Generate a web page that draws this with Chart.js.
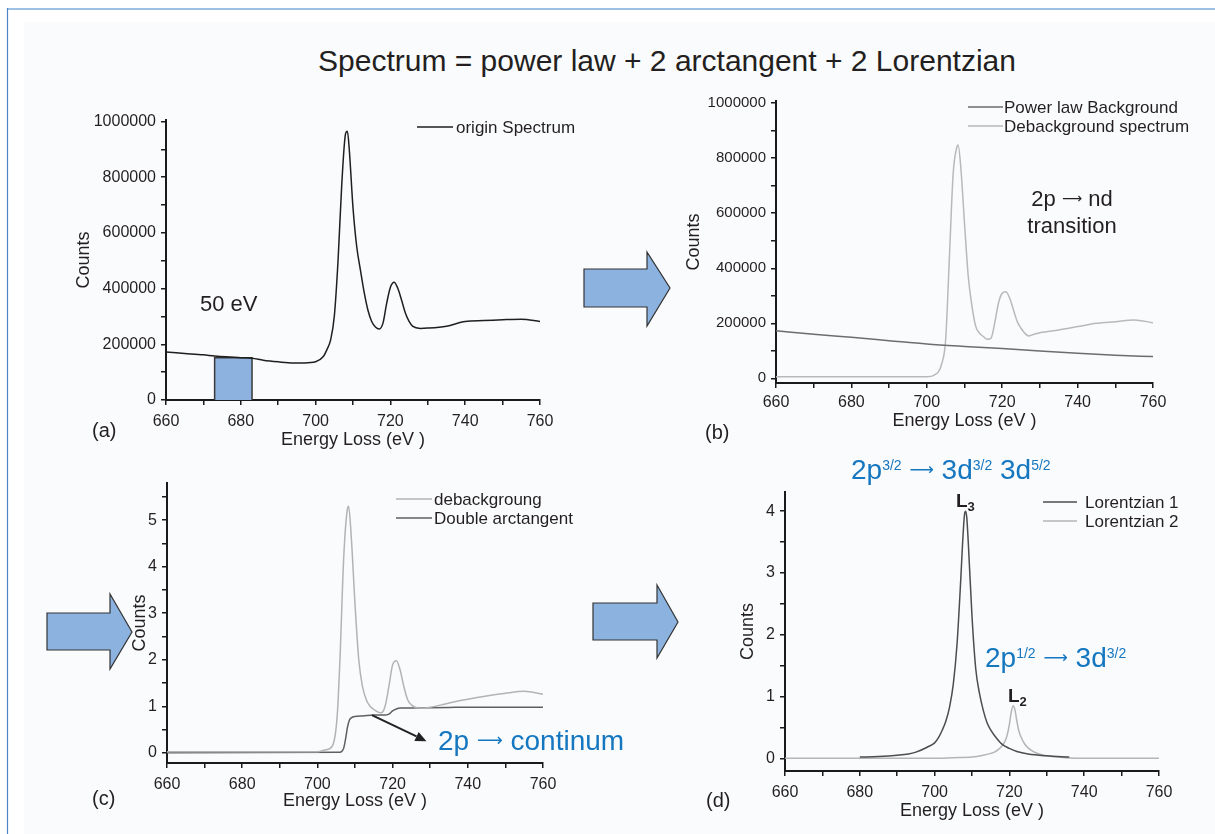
<!DOCTYPE html>
<html>
<head>
<meta charset="utf-8">
<title>Spectrum = power law + 2 arctangent + 2 Lorentzian</title>
<script src="https://cdn.jsdelivr.net/npm/chart.js@4.4.1/dist/chart.umd.min.js"></script>
<style>
  html, body { margin: 0; padding: 0; }
  body { width: 1215px; height: 834px; position: relative; overflow: hidden; background: #fff;
         font-family: "Liberation Sans", Arial, Helvetica, sans-serif; color: #231f20; }
  #sheet { position: absolute; left: 24px; top: 22px; right: 0; bottom: 0; background: #fafbfd; }
  svg.deco { position: absolute; left: 0; top: 0; }
  canvas { position: absolute; }
  .txt { position: absolute; white-space: nowrap; line-height: 1; }
  .blue { color: #1577c0; }
  .sup { font-size: 14px; vertical-align: 9px; }
  .arr { font-family: "DejaVu Sans", sans-serif; font-size: 17px; vertical-align: 4px; }
  .sub { font-size: 13px; vertical-align: -4px; }
</style>
</head>
<body>
<div id="sheet"></div>
<svg class="deco" width="1215" height="834">
  <line x1="7" y1="9" x2="1215" y2="9" stroke="#9dc1e4" stroke-width="2"/>
  <line x1="7.5" y1="8" x2="7.5" y2="834" stroke="#4b84c4" stroke-width="1.2"/>
  <g fill="#8cb2df" stroke="#333" stroke-width="1.2">
    <polygon points="584,269 647,269 647,252 670,288 647,326 647,307 584,307"/>
    <polygon points="47,613 110,613 110,594 132,632 110,669 110,650 47,650"/>
    <polygon points="593,603 657,603 657,585 678,622 657,658 657,640 593,640"/>
  </g>
</svg>

<canvas id="chartA"></canvas>
<canvas id="chartB"></canvas>
<canvas id="chartC"></canvas>
<canvas id="chartD"></canvas>

<div class="txt" style="left:667px; top:46px; font-size:30px; transform:translateX(-50%);">Spectrum = power law + 2 arctangent + 2 Lorentzian</div>

<div class="txt" style="left:200px; top:293px; font-size:22px;">50 eV</div>
<div class="txt" style="left:1072px; top:188px; font-size:22px; transform:translateX(-50%);">2p <span class="arr" style="font-size:14px; vertical-align:3px;">&#10230;</span> nd</div>
<div class="txt" style="left:1072px; top:215px; font-size:22px; transform:translateX(-50%);">transition</div>
<div class="txt blue" style="left:438px; top:727px; font-size:28px;">2p <span class="arr" style="font-size:18px;">&#10230;</span> continum</div>

<div class="txt blue" style="left:851px; top:456px; font-size:28px;">2p<span class="sup">3/2</span> <span class="arr">&#10230;</span> 3d<span class="sup">3/2</span> 3d<span class="sup">5/2</span></div>
<div class="txt blue" style="left:985px; top:644px; font-size:28px;">2p<span class="sup">1/2</span> <span class="arr">&#10230;</span> 3d<span class="sup">3/2</span></div>
<div class="txt" style="left:956px; top:491px; font-size:19px; font-weight:bold;">L<span class="sub">3</span></div>
<div class="txt" style="left:1008px; top:686px; font-size:19px; font-weight:bold;">L<span class="sub">2</span></div>

<div class="txt" style="left:92px; top:420px; font-size:20px;">(a)</div>
<div class="txt" style="left:705px; top:422px; font-size:20px;">(b)</div>
<div class="txt" style="left:92px; top:788px; font-size:20px;">(c)</div>
<div class="txt" style="left:706px; top:790px; font-size:20px;">(d)</div>

<script>
// tick labels
const energyLabels = [660, 680, 700, 720, 740, 760];
const countLabelsAB = [0, 200000, 400000, 600000, 800000, 1000000];
const countLabelsC = [0, 1, 2, 3, 4, 5];
const countLabelsD = [0, 1, 2, 3, 4];

// (a) raw spectrum
const energyA = [660, 665, 670, 673, 676, 680, 683, 686, 690, 694, 697, 700, 702, 703, 704, 705, 706, 707, 708, 708.5,
                 709, 710, 711, 712, 713, 714, 715, 716, 717, 718, 719, 720, 721, 722, 723, 724, 725, 726, 728, 730,
                 735, 740, 745, 750, 755, 760];
const originSpectrum = [172000, 167000, 162000, 158000, 155000, 152000, 150000, 143000, 137000, 133000, 133000, 137000, 155000, 180000, 215000, 300000, 500000, 775000, 955000, 965000,
                        900000, 690000, 550000, 465000, 385000, 322000, 282000, 262000, 255000, 275000, 347000, 405000, 423000, 400000, 358000, 312000, 282000, 264000, 257000, 258000,
                        265000, 282000, 285000, 288000, 290000, 282000];
const windowEnergy = [673, 673, 683, 683];      // the 10 eV fitting window
const windowCounts = [0, 152000, 152000, 0];

// (b) background + background-subtracted spectrum
const energyPL = [660, 670, 680, 690, 700, 710, 720, 730, 740, 750, 760];
const powerLaw = [173000, 160000, 149000, 137000, 125000, 116000, 108000, 99000, 91000, 84000, 79000];
const energyB = [660, 680, 695, 700, 702, 704, 705, 706, 707, 708, 708.3, 709, 710, 711, 712, 713, 714, 715, 716, 717,
                 718, 719, 720, 721, 722, 723, 724, 725, 726, 727, 728, 730, 735, 740, 745, 750, 755, 760];
const debackground = [6000, 6000, 6000, 6000, 12000, 55000, 140000, 442000, 745000, 842000, 848000, 770000, 564000, 370000, 261000, 188000, 164000, 152000, 142000, 145000,
                      200000, 273000, 309000, 315000, 291000, 248000, 206000, 182000, 164000, 154000, 158000, 166000, 176000, 188000, 200000, 206000, 212000, 202000];

// (c) normalised spectrum + double arctangent step
const energyC = [660, 700, 702, 704, 705, 705.5, 706, 707, 708, 708.3, 709, 710, 711, 712, 713, 714, 715, 716, 717, 718,
                 719, 720, 721, 722, 723, 724, 725, 726, 728, 730, 733, 735, 740, 745, 750, 755, 760];
const debackgroung = [0.02, 0.02, 0.06, 0.15, 0.55, 1.1, 2.0, 4.2, 5.25, 5.3, 4.65, 3.2, 2.0, 1.42, 1.14, 1.0, 0.93, 0.88, 0.86, 1.0,
                      1.42, 1.89, 1.98, 1.78, 1.42, 1.14, 1.03, 0.98, 0.96, 0.98, 1.03, 1.07, 1.15, 1.22, 1.28, 1.32, 1.26];
const energyArc = [660, 706, 706.5, 707, 707.5, 708, 708.5, 709, 710, 712, 715, 718, 719, 720, 721, 722, 725, 730, 735, 740, 760];
const doubleArctan = [0, 0.01, 0.03, 0.1, 0.3, 0.55, 0.7, 0.75, 0.78, 0.79, 0.81, 0.81, 0.83, 0.9, 0.94, 0.96, 0.965, 0.97, 0.975, 0.98, 0.98];
const continuumArrowFrom = [714.5, 0.81];
const continuumArrowTo = [729, 0.25];

// (d) the two Lorentzians
const energyL1 = [680, 685, 690, 693, 695, 698, 700, 701, 702, 703, 704, 705, 706, 707, 707.5, 708, 708.3, 708.6, 709, 710,
                  711, 712, 713, 714, 715, 716, 718, 720, 722, 725, 730, 736];
const lorentz1 = [0.02, 0.03, 0.05, 0.07, 0.1, 0.18, 0.25, 0.33, 0.45, 0.6, 0.83, 1.2, 1.85, 2.9, 3.5, 3.95, 4.0, 3.9, 3.5, 2.3,
                  1.45, 1.05, 0.78, 0.58, 0.46, 0.37, 0.23, 0.16, 0.11, 0.07, 0.04, 0.02];
const energyL2 = [660, 700, 705, 710, 713, 715, 716, 717, 718, 719, 719.5, 720, 720.5, 721, 721.5, 722, 722.5, 723, 724, 725,
                  727, 730, 735, 740, 760];
const lorentz2 = [0, 0, 0.01, 0.02, 0.05, 0.08, 0.1, 0.14, 0.2, 0.3, 0.4, 0.55, 0.75, 0.85, 0.78, 0.6, 0.45, 0.36, 0.24, 0.17,
                  0.09, 0.04, 0.01, 0, 0];

Chart.defaults.font.family = '"Liberation Sans", Arial, Helvetica, sans-serif';
Chart.defaults.color = '#231f20';
const AXIS = '#1a1a1a';

// legend drawn inside the plot, line sample + label
const lineLegend = {
    id: 'lineLegend',
    afterDraw(chart, args, opts) {
        if (!opts.rows) return;
        const ctx = chart.ctx;
        const ox = opts.originX, oy = opts.originY;
        ctx.save();
        ctx.font = '17px "Liberation Sans", Arial, sans-serif';
        ctx.textBaseline = 'middle';
        ctx.fillStyle = '#231f20';
        opts.rows.forEach(r => {
            const ds = chart.data.datasets[r.index];
            ctx.strokeStyle = ds.borderColor;
            ctx.lineWidth = 1.5;
            ctx.beginPath();
            ctx.moveTo(opts.x0 - ox, r.y - oy);
            ctx.lineTo(opts.x1 - ox, r.y - oy);
            ctx.stroke();
            ctx.fillText(ds.label, opts.textX - ox, r.y - oy + 1);
        });
        ctx.restore();
    }
};

// black pointer in panel (c)
const pointerArrow = {
    id: 'pointerArrow',
    afterDatasetsDraw(chart, args, opts) {
        if (!opts.from) return;
        const ctx = chart.ctx;
        const {x, y} = chart.scales;
        const x1 = x.getPixelForValue(opts.from[0]), y1 = y.getPixelForValue(opts.from[1]);
        const x2 = x.getPixelForValue(opts.to[0]), y2 = y.getPixelForValue(opts.to[1]);
        const ang = Math.atan2(y2 - y1, x2 - x1);
        const head = 11, half = 5;
        const bx = x2 - head * Math.cos(ang), by = y2 - head * Math.sin(ang);
        ctx.save();
        ctx.strokeStyle = '#222';
        ctx.fillStyle = '#222';
        ctx.lineWidth = 2;
        ctx.beginPath();
        ctx.moveTo(x1, y1);
        ctx.lineTo(bx, by);
        ctx.stroke();
        ctx.beginPath();
        ctx.moveTo(x2, y2);
        ctx.lineTo(bx - half * Math.sin(ang), by + half * Math.cos(ang));
        ctx.lineTo(bx + half * Math.sin(ang), by - half * Math.cos(ang));
        ctx.closePath();
        ctx.fill();
        ctx.restore();
    }
};
Chart.register(lineLegend, pointerArrow);

const series = (label, xs, ys, color) => ({
    label: label,
    data: xs.map((x, i) => ({x: x, y: ys[i]})),
    borderColor: color,
    borderWidth: 1.5,
    pointRadius: 0,
    fill: false,
    cubicInterpolationMode: 'monotone'
});

const energyAxis = (g) => ({
    type: 'linear', min: 660, max: 760,
    afterFit: s => { s.height = g.xH; },
    ticks: { stepSize: 10, autoSkip: false, maxRotation: 0, padding: g.xPad, font: {size: 16},
             callback: v => energyLabels.includes(v) ? String(v) : '' },
    grid: { drawOnChartArea: false, tickLength: 5, color: AXIS, lineWidth: 1.5 },
    border: { color: AXIS, width: 2 },
    title: { display: true, text: 'Energy Loss (eV )', font: {size: 18}, padding: 0 }
});

// labelled ticks come from the label arrays, with one unlabelled tick half-way between each pair
const countsAxis = (g, min, max, labels, size) => ({
    type: 'linear', min: min, max: max,
    afterFit: s => { s.width = g.yW; },
    afterBuildTicks: s => {
        const half = (labels[1] - labels[0]) / 2;
        const t = [];
        labels.forEach(v => {
            t.push({value: v});
            if (v + half <= max) t.push({value: v + half});
        });
        s.ticks = t;
    },
    ticks: { autoSkip: false, padding: 5, font: {size: size},
             callback: v => labels.includes(v) ? String(v) : '' },
    grid: { drawOnChartArea: false, tickLength: 5, color: AXIS, lineWidth: 1.5 },
    border: { color: AXIS, width: 2 },
    title: { display: true, text: 'Counts', font: {size: 18}, padding: 0 }
});

const makePanel = (id, g, datasets, yAxis, legend, arrow) => {
    const canvas = document.getElementById(id);
    canvas.width = g.w;
    canvas.height = g.h;
    canvas.style.left = g.left + 'px';
    canvas.style.top = g.top + 'px';
    legend.originX = g.left;
    legend.originY = g.top;
    return new Chart(canvas, {
        type: 'line',
        data: { datasets: datasets },
        options: {
            responsive: false,
            animation: false,
            layout: { padding: { top: g.padTop, right: g.padRight, left: 0, bottom: 0 } },
            scales: { x: energyAxis(g), y: yAxis },
            plugins: {
                legend: { display: false },
                tooltip: { enabled: false },
                lineLegend: legend,
                pointerArrow: arrow || {}
            }
        }
    });
};

const geoA = { left: 73, top: 100, w: 522, h: 351, yW: 93, xH: 51, padTop: 20, padRight: 55, xPad: 7 };
const geoB = { left: 683, top: 85, w: 527, h: 347, yW: 93, xH: 49, padTop: 16, padRight: 57, xPad: 5 };
const geoC = { left: 129, top: 465, w: 466, h: 347, yW: 38, xH: 49, padTop: 18, padRight: 52, xPad: 7 };
const geoD = { left: 737, top: 470, w: 470, h: 352, yW: 48, xH: 51, padTop: 22, padRight: 48, xPad: 7 };

const windowBox = series('window', windowEnergy, windowCounts, '#3a3a3a');
windowBox.fill = 'origin';
windowBox.backgroundColor = '#8db2df';
windowBox.cubicInterpolationMode = 'default';
windowBox.tension = 0;

makePanel('chartA', geoA,
    [series('origin Spectrum', energyA, originSpectrum, '#1f1f1f'), windowBox],
    countsAxis(geoA, 0, 1005000, countLabelsAB, 16),
    { x0: 417, x1: 453, textX: 456, rows: [{index: 0, y: 127}] });

makePanel('chartB', geoB,
    [series('Power law Background', energyPL, powerLaw, '#6d6d6d'),
     series('Debackground spectrum', energyB, debackground, '#b9b9b9')],
    countsAxis(geoB, -17000, 1008000, countLabelsAB, 15),
    { x0: 968, x1: 1003, textX: 1004, rows: [{index: 0, y: 107}, {index: 1, y: 126}] });

makePanel('chartC', geoC,
    [series('debackgroung', energyC, debackgroung, '#b3b3b3'),
     series('Double arctangent', energyArc, doubleArctan, '#5f5f5f')],
    countsAxis(geoC, -0.22, 5.8, countLabelsC, 16),
    { x0: 396, x1: 432, textX: 434, rows: [{index: 0, y: 499}, {index: 1, y: 518}] },
    { from: continuumArrowFrom, to: continuumArrowTo });

makePanel('chartD', geoD,
    [series('Lorentzian 1', energyL1, lorentz1, '#4d4d4d'),
     series('Lorentzian 2', energyL2, lorentz2, '#b5b5b5')],
    countsAxis(geoD, -0.205, 4.31, countLabelsD, 16),
    { x0: 1043, x1: 1077, textX: 1085, rows: [{index: 0, y: 502}, {index: 1, y: 521}] });
</script>
</body>
</html>
